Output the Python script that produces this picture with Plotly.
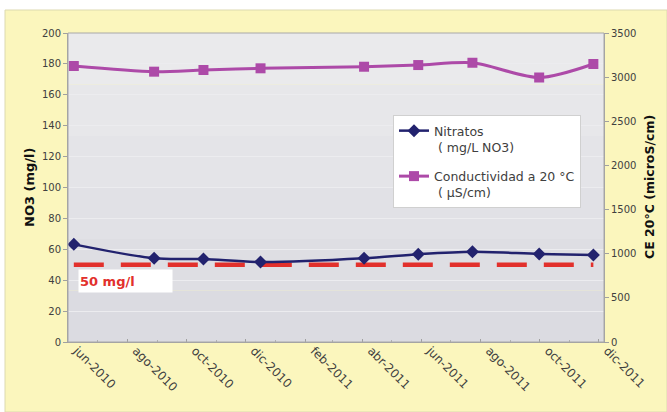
import plotly.graph_objects as go

# ---- data ----
DATES = ["2010-06-07", "2010-08-29", "2010-10-19", "2010-12-17", "2011-04-03",
         "2011-05-29", "2011-07-24", "2011-10-01", "2011-11-26"]
NITRATOS = [63.2, 54.2, 53.7, 51.8, 54.2, 56.8, 58.4, 57.0, 56.3]
CONDUCTIVIDAD = [3126, 3062, 3081, 3100, 3118, 3137, 3163, 2996, 3149]
LIMITE = 50
TICK_DATES = ["2010-06-01", "2010-08-01", "2010-10-01", "2010-12-01", "2011-02-01",
              "2011-04-01", "2011-06-01", "2011-08-01", "2011-10-01", "2011-12-01"]
TICK_LABELS = ["jun-2010", "ago-2010", "oct-2010", "dic-2010", "feb-2011",
               "abr-2011", "jun-2011", "ago-2011", "oct-2011", "dic-2011"]
LEFT_TICKS = list(range(0, 201, 20))
RIGHT_TICKS = list(range(0, 3501, 500))

FONT = "DejaVu Sans"
TXT = "#404040"

fig = go.Figure()

fig.add_trace(go.Scatter(
    x=DATES, y=[LIMITE] * len(DATES), mode="lines", showlegend=False,
    line=dict(color="#e2302c", width=4.5, dash="30px,17px"), hoverinfo="skip"))

fig.add_trace(go.Scatter(
    x=DATES, y=NITRATOS, name="Nitratos<br> ( mg/L NO3)", mode="lines+markers",
    legendgroup="a",
    line=dict(color="#22226e", width=2.5, shape="spline", smoothing=0.8),
    marker=dict(symbol="diamond", size=10, color="#22226e")))

fig.add_trace(go.Scatter(
    x=DATES, y=CONDUCTIVIDAD, name="Conductividad a 20 °C<br> ( µS/cm)", mode="lines+markers",
    yaxis="y2", legendgroup="b",
    line=dict(color="#ad4aa8", width=3, shape="spline", smoothing=0.8),
    marker=dict(symbol="square", size=10, color="#ad4aa8")))

L, R, T, B = 68, 63, 33, 70
W, H = 667, 412
pw, ph = W - L - R, H - T - B

def px(x):
    return (x - L) / pw

def py(y):
    return (H - B - y) / ph

shapes = [
    dict(type="rect", xref="paper", yref="paper", layer="below",
         x0=px(5), x1=px(667), y0=py(412), y1=py(10),
         fillcolor="#fbf6bd", line=dict(color="#dcd9b0", width=1)),
]
bands = ["#eaeaec", "#e7e7ea", "#e4e4e8", "#e1e1e6", "#dedee3", "#dbdbe1"]
n = len(bands)
for i, c in enumerate(bands):
    shapes.append(dict(type="rect", xref="paper", yref="paper", layer="below",
                       x0=0, x1=1, y0=1 - (i + 1) / n, y1=1 - i / n,
                       fillcolor=c, line=dict(width=0)))
shapes.append(dict(type="rect", xref="paper", yref="paper", layer="above",
                   x0=0, x1=1, y0=0, y1=1, line=dict(color="#a8a8a8", width=1)))

fig.update_layout(
    width=W, height=H,
    margin=dict(l=L, r=R, t=T, b=B),
    paper_bgcolor="white", plot_bgcolor="#e2e2e6",
    font=dict(family=FONT, color=TXT, size=10),
    shapes=shapes,
    xaxis=dict(type="date", range=["2010-06-01", "2011-12-07"],
               tickvals=TICK_DATES, ticktext=TICK_LABELS, tickangle=45,
               tickfont=dict(size=12, color=TXT), showgrid=False,
               ticks="inside", ticklen=3, tickcolor="#a0a0a0",
               ticklabelshift=9, ticklabelstandoff=-4,
               minor=dict(dtick="M1", ticks="inside", ticklen=2, tickcolor="#b0b0b0"),
               showline=True, linecolor="#a0a0a0"),
    yaxis=dict(range=[0, 200], tickvals=LEFT_TICKS, showgrid=True,
               gridcolor="#ececef", gridwidth=1, zeroline=False,
               ticks="outside", ticklen=4, tickcolor="#a0a0a0",
               tickfont=dict(size=10, color=TXT),
               showline=True, linecolor="#a0a0a0"),
    yaxis2=dict(range=[0, 3500], tickvals=RIGHT_TICKS, overlaying="y", side="right",
                showgrid=False, zeroline=False, ticks="outside", ticklen=4,
                tickcolor="#a0a0a0", tickfont=dict(size=10, color=TXT),
                showline=True, linecolor="#a0a0a0"),
    legend=dict(x=px(393), y=py(115), xanchor="left", yanchor="top",
                bgcolor="white", bordercolor="#d0d0d0", borderwidth=1,
                font=dict(size=12.5, color=TXT, family=FONT), valign="top",
                itemwidth=30, tracegroupgap=10),
    annotations=[
        dict(text="<b>NO3 (mg/l)</b>", xref="paper", yref="paper", x=px(20), y=0.5,
             textangle=-90, showarrow=False, font=dict(size=13, color="#111111",
             family="DejaVu Sans")),
        dict(text="<b>CE 20°C (microS/cm)</b>", xref="paper", yref="paper", x=px(659), y=0.5,
             textangle=-90, showarrow=False, font=dict(size=12.5, color="#111111",
             family="DejaVu Sans")),
        dict(text="<b>50 mg/l</b>", xref="paper", yref="paper", x=px(78), y=py(281),
             xanchor="left", yanchor="middle", showarrow=False, align="left",
             bgcolor="white", width=91, height=20,
             font=dict(size=13, color="#e2302c", family="DejaVu Sans")),
    ],
)

fig.write_html("out.html", config={"displayModeBar": False},
               post_script="document.body.style.margin='0';")
